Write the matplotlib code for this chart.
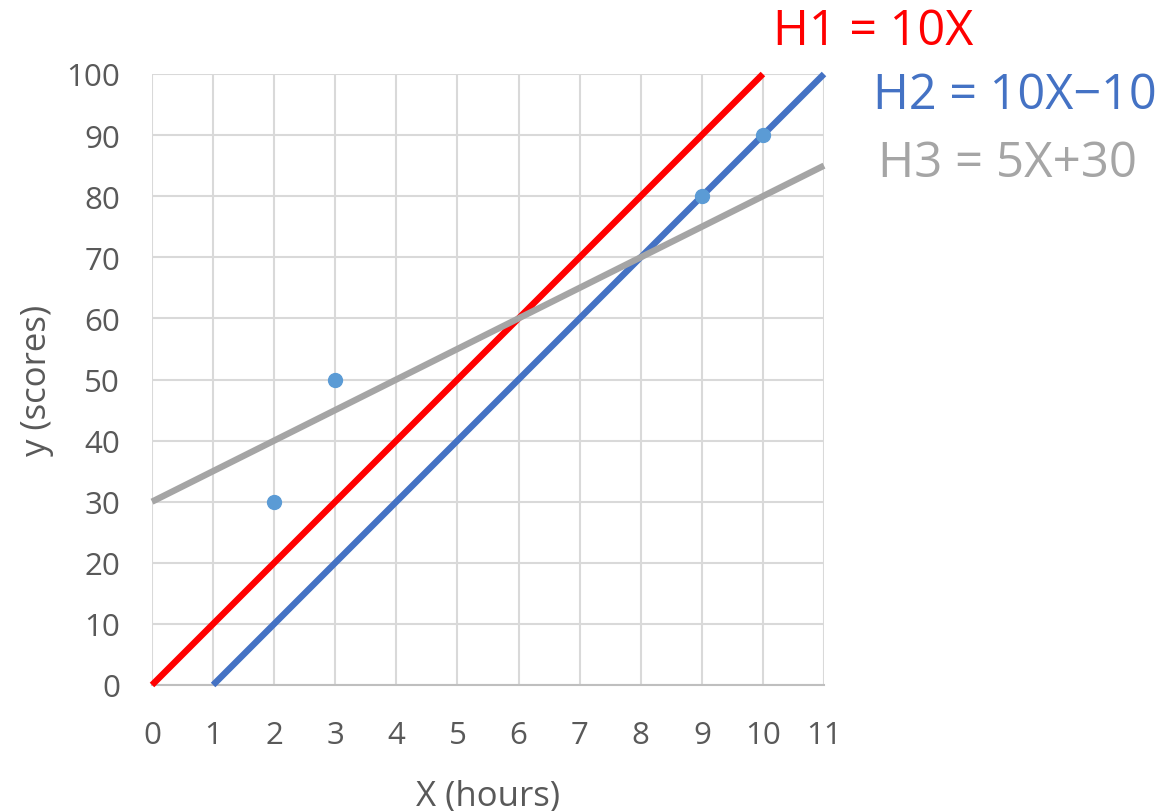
import numpy as np
import matplotlib.pyplot as plt

plt.rcParams['font.family'] = ['Open Sans', 'DejaVu Sans']

# data
h1_x = [0, 10]
h1_y = [0, 100]
h2_x = [1, 11]
h2_y = [0, 100]
h3_x = [0, 11]
h3_y = [30, 85]
pts_x = [2, 3, 9, 10]
pts_y = [30, 50, 80, 90]

x_ticks = list(range(0, 12))
y_ticks = list(range(0, 101, 10))

txt = '#595959'
grid_c = '#d9d9d9'

fig = plt.figure(figsize=(11.66, 8.12), dpi=100)
ax = fig.add_axes([152 / 1166, 1 - 686 / 812, (824 - 152) / 1166, (686 - 75) / 812])

ax.plot(h1_x, h1_y, color='#ff0000', lw=4.6, solid_capstyle='butt', clip_on=False, zorder=3)
ax.plot(h2_x, h2_y, color='#4472c4', lw=4.6, solid_capstyle='butt', clip_on=False, zorder=3)
ax.plot(h3_x, h3_y, color='#a5a5a5', lw=4.6, solid_capstyle='butt', clip_on=False, zorder=3)
ax.plot(pts_x, pts_y, 'o', color='#5b9bd5', ms=10, zorder=4, clip_on=False)

ax.set_xlim(0, 11)
ax.set_ylim(0, 100)
ax.set_xticks(x_ticks)
ax.set_yticks(y_ticks)
ax.tick_params(length=0, labelsize=22.5, labelcolor=txt)
ax.tick_params(axis='x', pad=25)
ax.tick_params(axis='y', pad=23)
ax.grid(True, color=grid_c, lw=1.5)
ax.set_axisbelow(True)
for s in ['top', 'right', 'left']:
    ax.spines[s].set_visible(False)
ax.spines['bottom'].set_color('#bfbfbf')
ax.spines['bottom'].set_linewidth(1.5)

ax.set_xlabel('X (hours)', fontsize=25, color=txt, labelpad=21)
ax.set_ylabel('y (scores)', fontsize=25, color=txt, labelpad=9)

fig.text(773 / 1166, 1 - 45 / 812, 'H1 = 10X', color='#ff0000', fontsize=35, va='baseline')
fig.text(873 / 1166, 1 - 109 / 812, 'H2 = 10X\u221210', color='#4472c4', fontsize=35, va='baseline')
fig.text(878 / 1166, 1 - 177 / 812, 'H3 = 5X+30', color='#a5a5a5', fontsize=35.5, va='baseline')

fig.savefig('out.png', dpi=100)
